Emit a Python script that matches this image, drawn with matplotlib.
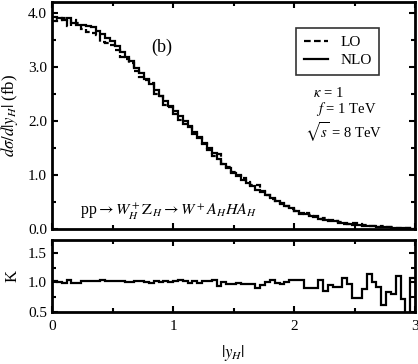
import numpy as np
import matplotlib
matplotlib.use("Agg")
import matplotlib.pyplot as plt
from matplotlib.ticker import MultipleLocator, FormatStrFormatter

plt.rcParams['font.family'] = ['Liberation Serif', 'DejaVu Serif']
plt.rcParams['mathtext.fontset'] = 'stix'

# |y_H| bins (width 0.04 from 0 to 3)
bin_width = 0.04
n_bins = 75

# NLO distribution d sigma / d|y_H| (fb)
nlo = [3.93, 3.90, 3.86, 3.90, 3.82, 3.77, 3.77, 3.75, 3.73, 3.66,
       3.60, 3.54, 3.47, 3.38, 3.28, 3.18, 3.10, 2.98, 2.88, 2.78,
       2.68, 2.57, 2.46, 2.37, 2.27, 2.19, 2.09, 1.99, 1.89, 1.80,
       1.69, 1.60, 1.50, 1.40, 1.30, 1.21, 1.12, 1.04, 0.98, 0.91,
       0.85, 0.79, 0.73, 0.68, 0.62, 0.57, 0.52, 0.47, 0.42, 0.38,
       0.34, 0.30, 0.27, 0.24, 0.22, 0.19, 0.17, 0.155, 0.14, 0.12,
       0.105, 0.09, 0.08, 0.07, 0.062, 0.055, 0.048, 0.042, 0.036, 0.03,
       0.025, 0.02, 0.015, 0.01, 0.006]

# LO distribution (fb)
lo = [3.85, 3.86, 3.90, 3.75, 3.86, 3.81, 3.70, 3.64, 3.62, 3.59,
      3.46, 3.44, 3.40, 3.31, 3.18, 3.15, 3.07, 2.92, 2.82, 2.75,
      2.71, 2.50, 2.46, 2.30, 2.25, 2.13, 2.01, 1.95, 1.91, 1.76,
      1.71, 1.57, 1.47, 1.35, 1.38, 1.21, 1.155, 1.06, 0.99, 0.94,
      0.876, 0.814, 0.811, 0.708, 0.62, 0.548, 0.525, 0.48, 0.42, 0.365,
      0.327, 0.286, 0.30, 0.264, 0.244, 0.181, 0.20, 0.161, 0.151, 0.129,
      0.098, 0.092, 0.108, 0.095, 0.070, 0.048, 0.0475, 0.046, 0.058, 0.036,
      0.031, 0.018, 0.021, 0.022, 0.0056]

# K factor NLO/LO
kfac = [1.02, 1.01, 0.99, 1.04, 0.99, 0.99, 1.02, 1.03, 1.03, 1.02,
        1.04, 1.03, 1.02, 1.02, 1.03, 1.01, 1.01, 1.02, 1.02, 1.01,
        0.99, 1.03, 1.00, 1.03, 1.01, 1.03, 1.04, 1.02, 0.99, 1.02,
        0.99, 1.02, 1.02, 1.04, 0.94, 1.00, 0.97, 0.98, 0.99, 0.97,
        0.97, 0.97, 0.90, 0.96, 1.00, 1.04, 0.99, 0.98, 1.00, 1.04,
        1.04, 1.05, 0.90, 0.91, 0.90, 1.05, 0.85, 0.96, 0.93, 0.93,
        1.07, 0.98, 0.74, 0.74, 0.89, 1.14, 1.01, 0.92, 0.62, 0.84,
        0.80, 1.11, 0.72, 0.45, 1.07]

edges = np.arange(n_bins + 1) * bin_width

fig = plt.figure(figsize=(4.18, 3.64), dpi=100)
ax = fig.add_axes([0.1244, 0.3709, 0.8686, 0.6236])
axk = fig.add_axes([0.1244, 0.1429, 0.8686, 0.1978])

lw = 1.6
ax.stairs(lo, edges, color='black', lw=lw, linestyle=(0, (3, 1.5)), label='LO', baseline=None)
ax.stairs(nlo, edges, color='black', lw=lw, label='NLO', baseline=None)
axk.stairs(kfac, edges, color='black', lw=lw, baseline=None)

for a in (ax, axk):
    a.set_xlim(0, 3)
    a.xaxis.set_major_locator(MultipleLocator(1))
    a.xaxis.set_minor_locator(MultipleLocator(0.5))
    a.tick_params(which='both', direction='in', top=True, right=True,
                  labelsize=11, width=1.5)
    a.tick_params(which='major', length=4)
    a.tick_params(which='minor', length=3)
    for s in a.spines.values():
        s.set_linewidth(2)

ax.set_ylim(0, 4.2)
ax.yaxis.set_major_locator(MultipleLocator(1))
ax.yaxis.set_minor_locator(MultipleLocator(0.5))
ax.yaxis.set_major_formatter(FormatStrFormatter('%.1f'))
ax.tick_params(labelbottom=False)
ax.set_ylabel(r'$d\sigma/d|y_H|$ (fb)', fontsize=12)
ax.yaxis.set_label_coords(-0.088, 0.5)

axk.set_ylim(0.5, 1.72)
axk.yaxis.set_major_locator(MultipleLocator(0.5))
axk.yaxis.set_minor_locator(MultipleLocator(0.25))
axk.yaxis.set_major_formatter(FormatStrFormatter('%.1f'))
axk.tick_params(axis='x', pad=6)
axk.set_ylabel('K', fontsize=12)
axk.yaxis.set_label_coords(-0.088, 0.5)

fig.text(0.557, 0.03, r'$|y_H|$', fontsize=12, ha='center', va='center')

ax.text(0.91, 3.37, '(b)', fontsize=13, ha='center', va='center')
ax.text(0.23, 0.31, r'pp$\rightarrow W_H^+\mathrm{Z}_H\rightarrow W^+A_HHA_H$',
        fontsize=11.5, ha='left', va='center')
ax.text(2.16, 2.52, r'$\kappa$ = 1', fontsize=10.5, ha='left', va='center')
ax.text(2.18, 2.22, r'$f$ = 1 TeV', fontsize=10.5, ha='left', va='center')
ax.text(2.09, 1.79, r'$\sqrt{s}$ = 8 TeV', fontsize=10.5, ha='left', va='center')

leg = ax.legend(loc='upper right', bbox_to_anchor=(0.923, 0.92), fontsize=11,
                frameon=True, fancybox=False, edgecolor='black',
                handlelength=1.6, handletextpad=0.8, borderpad=0.5,
                labelspacing=0.3)
leg.get_frame().set_linewidth(1.2)

fig.savefig('out.png', dpi=100)
